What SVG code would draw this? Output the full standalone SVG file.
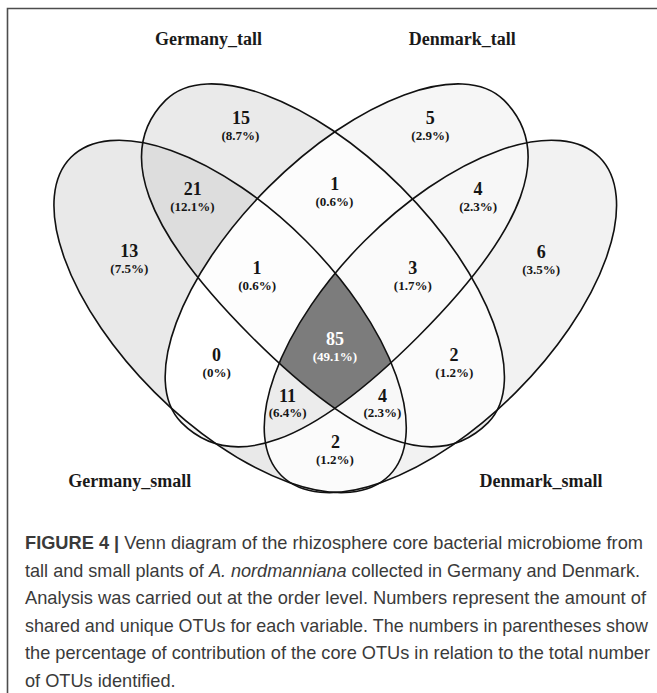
<svg xmlns="http://www.w3.org/2000/svg" width="657" height="693" viewBox="0 0 657 693">
<defs>
<style>
.num{font-family:"Liberation Serif","Times New Roman",serif;font-weight:bold;font-size:18px;fill:#151515;text-anchor:middle}
.pct{font-family:"Liberation Serif","Times New Roman",serif;font-weight:bold;font-size:13px;fill:#151515;text-anchor:middle}
.title{font-family:"Liberation Serif","Times New Roman",serif;font-weight:bold;font-size:18px;fill:#1a1a1a;text-anchor:middle}
.cap{font-family:"Liberation Sans",Arial,sans-serif;font-size:18.2px;fill:#3a3a3a}
.wt{fill:#ffffff}
.outline{fill:none;stroke:#111;stroke-width:1.6}
.frame{fill:none;stroke:#4d4d4d;stroke-width:1.6}
</style>
<ellipse id="eA" rx="225" ry="107" transform="translate(230.1 316.4) rotate(45)"/>
<path id="eB" d="M228 0C228 -58 125.9 -105 0 -105C-125.9 -105 -228 -58 -228 0C-228 71.4 -152.8 106.5 0 106.5C152.8 106.5 228 71.4 228 0Z" transform="translate(326.9 261.4) rotate(45)"/>
<path id="eC" d="M228 0C228 -58 125.9 -105 0 -105C-125.9 -105 -228 -58 -228 0C-228 71.4 -152.8 106.5 0 106.5C152.8 106.5 228 71.4 228 0Z" transform="translate(669.6 0) scale(-1 1) translate(326.9 261.4) rotate(45)"/>
<ellipse id="eD" rx="225" ry="107" transform="translate(670.5 0) scale(-1 1) translate(230.1 316.4) rotate(45)"/>
<clipPath id="cA"><use href="#eA"/></clipPath>
<clipPath id="cB"><use href="#eB"/></clipPath>
<clipPath id="cC"><use href="#eC"/></clipPath>
<clipPath id="cD"><use href="#eD"/></clipPath>
</defs>
<rect width="657" height="693" fill="#ffffff"/>
<path class="frame" d="M7.5 693 V8.5 H657"/>

<g id="region-fills">
<use href="#eA" fill="#e9e9e9"/>
<use href="#eB" fill="#eaeaea"/>
<use href="#eC" fill="#f6f6f6"/>
<use href="#eD" fill="#f2f2f2"/>
<g clip-path="url(#cA)"><use href="#eB" fill="#dddddd"/></g>
<g clip-path="url(#cA)"><use href="#eC" fill="#ffffff"/></g>
<g clip-path="url(#cA)"><use href="#eD" fill="#fbfbfb"/></g>
<g clip-path="url(#cB)"><use href="#eC" fill="#fcfcfc"/></g>
<g clip-path="url(#cB)"><use href="#eD" fill="#fbfbfb"/></g>
<g clip-path="url(#cC)"><use href="#eD" fill="#f7f7f7"/></g>
<g clip-path="url(#cA)"><g clip-path="url(#cB)"><use href="#eC" fill="#fdfdfd"/></g></g>
<g clip-path="url(#cA)"><g clip-path="url(#cB)"><use href="#eD" fill="#f8f8f8"/></g></g>
<g clip-path="url(#cA)"><g clip-path="url(#cC)"><use href="#eD" fill="#ececec"/></g></g>
<g clip-path="url(#cB)"><g clip-path="url(#cC)"><use href="#eD" fill="#fafafa"/></g></g>
<g clip-path="url(#cA)"><g clip-path="url(#cB)"><g clip-path="url(#cC)"><use href="#eD" fill="#7c7c7c"/></g></g></g>
</g>

<g id="connectors"></g>

<g id="set-germany-small">
<use href="#eA" class="outline"/>
<text class="title" x="129.7" y="487">Germany_small</text>
</g>
<g id="set-germany-tall">
<use href="#eB" class="outline"/>
<text class="title" x="208.5" y="45">Germany_tall</text>
</g>
<g id="set-denmark-tall">
<use href="#eC" class="outline"/>
<text class="title" x="462.3" y="45">Denmark_tall</text>
</g>
<g id="set-denmark-small">
<use href="#eD" class="outline"/>
<text class="title" x="541" y="487">Denmark_small</text>
</g>

<g id="labels">
<g id="r-gt"><text class="num" x="241" y="124.3">15</text><text class="pct" x="240.5" y="139.9">(8.7%)</text></g>
<g id="r-dt"><text class="num" x="430.3" y="124.3">5</text><text class="pct" x="430.3" y="139.9">(2.9%)</text></g>
<g id="r-gs-gt"><text class="num" x="192.8" y="195">21</text><text class="pct" x="192.5" y="210.6">(12.1%)</text></g>
<g id="r-gt-dt"><text class="num" x="334.8" y="190">1</text><text class="pct" x="334.5" y="205.6">(0.6%)</text></g>
<g id="r-dt-ds"><text class="num" x="478" y="195">4</text><text class="pct" x="478.2" y="210.6">(2.3%)</text></g>
<g id="r-gs"><text class="num" x="129.2" y="257">13</text><text class="pct" x="129.3" y="272.6">(7.5%)</text></g>
<g id="r-ds"><text class="num" x="541.2" y="258">6</text><text class="pct" x="541.2" y="273.6">(3.5%)</text></g>
<g id="r-gs-gt-dt"><text class="num" x="257" y="274.3">1</text><text class="pct" x="257.2" y="289.9">(0.6%)</text></g>
<g id="r-gt-dt-ds"><text class="num" x="412.8" y="274.3">3</text><text class="pct" x="412.8" y="289.9">(1.7%)</text></g>
<g id="r-all"><text class="num wt" x="335" y="345">85</text><text class="pct wt" x="335" y="360.6">(49.1%)</text></g>
<g id="r-gs-dt"><text class="num" x="216.5" y="361">0</text><text class="pct" x="216.7" y="376.6">(0%)</text></g>
<g id="r-gt-ds"><text class="num" x="454" y="361">2</text><text class="pct" x="454.3" y="376.6">(1.2%)</text></g>
<g id="r-gs-dt-ds"><text class="num" x="287.5" y="401.6">11</text><text class="pct" x="287.7" y="417.2">(6.4%)</text></g>
<g id="r-gs-gt-ds"><text class="num" x="382.5" y="401.6">4</text><text class="pct" x="382.5" y="417.2">(2.3%)</text></g>
<g id="r-gs-ds"><text class="num" x="335.5" y="448.3">2</text><text class="pct" x="335" y="463.9">(1.2%)</text></g>
</g>

<g id="caption">
<text class="cap" x="25" y="549" textLength="618" lengthAdjust="spacingAndGlyphs"><tspan font-weight="bold">FIGURE 4 |</tspan> Venn diagram of the rhizosphere core bacterial microbiome from</text>
<text class="cap" x="25" y="576.6" textLength="615" lengthAdjust="spacingAndGlyphs">tall and small plants of <tspan font-style="italic">A. nordmanniana</tspan> collected in Germany and Denmark.</text>
<text class="cap" x="25" y="604.2" textLength="621" lengthAdjust="spacingAndGlyphs">Analysis was carried out at the order level. Numbers represent the amount of</text>
<text class="cap" x="25" y="631.8" textLength="623" lengthAdjust="spacingAndGlyphs">shared and unique OTUs for each variable. The numbers in parentheses show</text>
<text class="cap" x="25" y="659.4" textLength="625" lengthAdjust="spacingAndGlyphs">the percentage of contribution of the core OTUs in relation to the total number</text>
<text class="cap" x="25" y="687">of OTUs identified.</text>
</g>
</svg>
